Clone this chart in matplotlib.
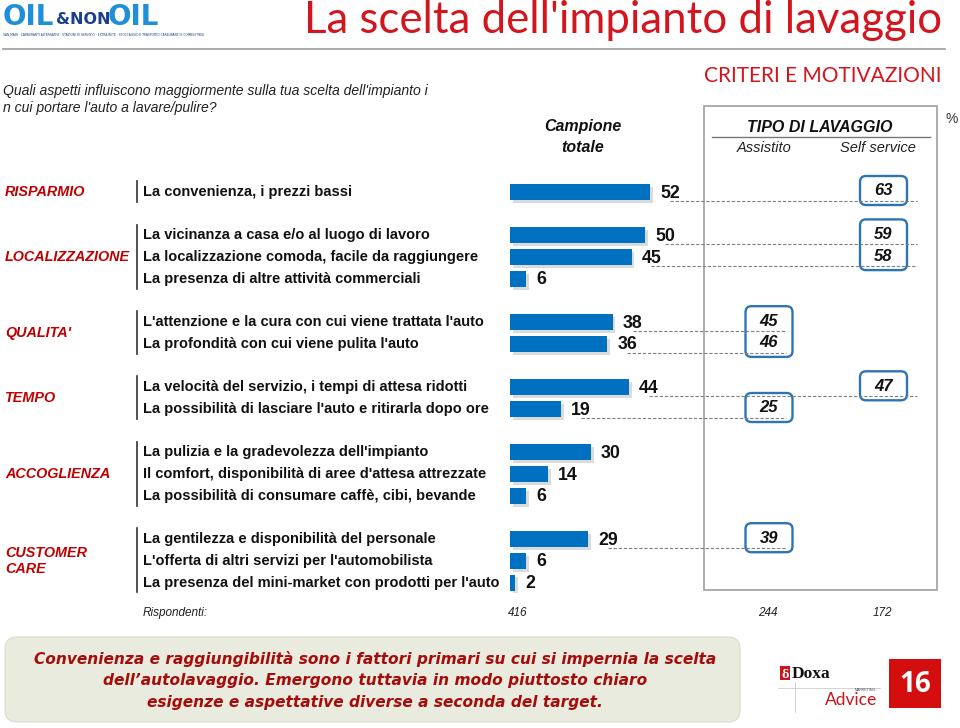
import matplotlib
matplotlib.use("Agg")
import matplotlib.pyplot as plt
import matplotlib.transforms as mtransforms
import matplotlib.patheffects as pe
from matplotlib.patches import FancyBboxPatch, Rectangle

# ---------------- data ----------------
categories = ["RISPARMIO", "LOCALIZZAZIONE", "QUALITA'", "TEMPO", "ACCOGLIENZA", "CUSTOMER\nCARE"]
items = [
    ["La convenienza, i prezzi bassi"],
    ["La vicinanza a casa e/o al luogo di lavoro",
     "La localizzazione comoda, facile da raggiungere",
     "La presenza di altre attività commerciali"],
    ["L'attenzione e la cura con cui viene trattata l'auto",
     "La profondità con cui viene pulita l'auto"],
    ["La velocità del servizio, i tempi di attesa ridotti",
     "La possibilità di lasciare l'auto e ritirarla dopo ore"],
    ["La pulizia e la gradevolezza dell'impianto",
     "Il comfort, disponibilità di aree d'attesa attrezzate",
     "La possibilità di consumare caffè, cibi, bevande"],
    ["La gentilezza e disponibilità del personale",
     "L'offerta di altri servizi per l'automobilista",
     "La presenza del mini-market con prodotti per l'auto"],
]
totale = [[52], [50, 45, 6], [38, 36], [44, 19], [30, 14, 6], [29, 6, 2]]
assistito = [[None], [None, None, None], [45, 46], [None, 25], [None, None, None], [39, None, None]]
self_service = [[63], [59, 58, None], [None, None], [47, None], [None, None, None], [None, None, None]]
column_labels = ["Assistito", "Self service"]
respondents = ["416", "244", "172"]

# ---------------- style ----------------
SANS = ["Liberation Sans", "DejaVu Sans"]
BLUE = "#0070C0"
RED = "#C00000"
TITLE_RED = "#D3151D"
BOX_BLUE = "#2E74B5"

fig = plt.figure(figsize=(9.6, 7.28), dpi=100)
fig.patch.set_facecolor("white")

# background layout axes in pixel units
bg = fig.add_axes([0, 0, 1, 1])
bg.set_xlim(0, 960)
bg.set_ylim(728, 0)
bg.set_autoscale_on(False)
bg.axis("off")

# bar axes
PX_PER_UNIT = 2.7
ROW0, PITCH = 192.0, 21.7
ax = fig.add_axes([510 / 960, 1 - 600 / 728, 450 / 960, 430 / 728], zorder=3)
ax.set_xlim(0, 450 / PX_PER_UNIT)
ax.set_ylim((600 - ROW0) / PITCH, (170 - ROW0) / PITCH)
ax.set_autoscale_on(False)
ax.axis("off")

mixed = mtransforms.blended_transform_factory(bg.transData, ax.transData)


def row_px(r):
    return bg.transData.inverted().transform(ax.transData.transform((0, r)))[1]


def px_to_x(px):
    return ax.transData.inverted().transform(bg.transData.transform((px, 0)))[0]


# rows
rows = []
start = 0
for g, grp in enumerate(totale):
    rows.append([start + i for i in range(len(grp))])
    start += len(grp) + 1

flat_rows = [r for grp in rows for r in grp]
flat_vals = [v for grp in totale for v in grp]

shadow = [pe.SimplePatchShadow(offset=(2, -2), shadow_rgbFace="#8a8a8a", alpha=0.3), pe.Normal()]
bars = ax.barh(flat_rows, flat_vals, height=0.74, color=BLUE, edgecolor="none")
for b in bars:
    b.set_path_effects(shadow)
for r, v in zip(flat_rows, flat_vals):
    ax.text(v + 3.7, r + 0.05, str(v), ha="left", va="center", fontsize=12.8,
            fontweight="bold", family=SANS, color="#111111")

# left side labels
for g, cat in enumerate(categories):
    rr = rows[g]
    mid = (rr[0] + rr[-1]) / 2
    bg.text(5, mid, cat, transform=mixed, ha="left", va="center", fontsize=10.4,
            fontweight="bold", fontstyle="italic", color=RED, family=SANS, linespacing=1.2)
    bg.plot([137, 137], [rr[0] - 0.5, rr[-1] + 0.45], transform=mixed, color="#333333", lw=1.2)
    for r, txt in zip(rr, items[g]):
        bg.text(143, r, txt, transform=mixed, ha="left", va="center", fontsize=10.5,
                fontweight="bold", color="#111111", family=SANS)

# highlighted columns
col_x = [769, 883.5]
col_end = [786, 917]
for ci, series in enumerate([assistito, self_service]):
    for g, grp in enumerate(series):
        run = []
        for i, val in enumerate(grp + [None]):
            if val is not None:
                run.append(i)
                r = rows[g][i]
                tv = totale[g][i]
                ax.plot([tv + 7.4, px_to_x(col_end[ci])], [r + 0.41, r + 0.41],
                        color="#808080", lw=0.8, ls=(0, (3, 1.6)), zorder=2)
                ax.text(px_to_x(col_x[ci]), r - 0.05, str(val), ha="center", va="center",
                        fontsize=12, fontweight="bold", fontstyle="italic",
                        family=SANS, color="#111111", zorder=6)
            elif run:
                top = row_px(rows[g][run[0]]) - 16
                bot = row_px(rows[g][run[-1]]) + 13
                bg.add_patch(FancyBboxPatch((col_x[ci] - 23.5, top), 47, bot - top,
                                            boxstyle="round,pad=0,rounding_size=6",
                                            facecolor="white", edgecolor=BOX_BLUE,
                                            lw=1.7, zorder=4))
                run = []

# panel frame
bg.add_patch(Rectangle((704, 106), 233, 484, facecolor="none", edgecolor="#A6A6A6", lw=1.3))
bg.text(820, 127, "TIPO DI LAVAGGIO", ha="center", va="center", fontsize=11.5,
        fontweight="bold", fontstyle="italic", family=SANS, color="#111111")
bg.plot([712, 930], [137, 137], color="#777777", lw=1)
bg.text(764, 148, column_labels[0], ha="center", va="center", fontsize=10.5,
        fontstyle="italic", family=SANS, color="#222222")
bg.text(878, 148, column_labels[1], ha="center", va="center", fontsize=10.5,
        fontstyle="italic", family=SANS, color="#222222")
bg.text(952, 119, "%", ha="center", va="center", fontsize=10, family=SANS, color="#333333")

bg.text(583, 127, "Campione", ha="center", va="center", fontsize=11.5,
        fontweight="bold", fontstyle="italic", family=SANS, color="#111111")
bg.text(583, 147, "totale", ha="center", va="center", fontsize=11.5,
        fontweight="bold", fontstyle="italic", family=SANS, color="#111111")

# header
bg.text(942, 33, "La scelta dell'impianto di lavaggio", ha="right", va="baseline",
        fontsize=31.5, family=["Lato", "DejaVu Sans"], fontweight="normal", color=TITLE_RED)
bg.plot([3, 945], [49, 49], color="#A6A6A6", lw=1.3)
bg.text(942, 76, "CRITERI E MOTIVAZIONI", ha="right", va="center", fontsize=15,
        family=["Lato", "DejaVu Sans"], fontweight="normal", color=TITLE_RED)
bg.text(3, 91, "Quali aspetti influiscono maggiormente sulla tua scelta dell'impianto i",
        ha="left", va="center", fontsize=10.1, fontstyle="italic", family=SANS, color="#222222")
bg.text(3, 108, "n cui portare l'auto a lavare/pulire?",
        ha="left", va="center", fontsize=10.1, fontstyle="italic", family=SANS, color="#222222")

# logo OIL&NONOIL
bg.text(3, 17, "OIL", ha="left", va="center", fontsize=20, fontweight="heavy",
        family="DejaVu Sans", color="#1E8FD8")
bg.text(56, 19, "&NON", ha="left", va="center", fontsize=11.5, fontweight="heavy",
        family="DejaVu Sans", color="#1B3F8F")
bg.text(108, 17, "OIL", ha="left", va="center", fontsize=20, fontweight="heavy",
        family="DejaVu Sans", color="#1E8FD8")
bg.text(3, 35, "SAN MAIN · CARBURANTI ALTERNATIVI · STAZIONI DI SERVIZIO · EXTRA RETE · STOCCAGGIO E TRASPORTO CARBURANTI E COMBUSTIBILI",
        ha="left", va="center", fontsize=2.2, family="DejaVu Sans", color="#1B3F8F")

# respondents
bg.text(143, 613, "Rispondenti:", ha="left", va="center", fontsize=8.5,
        fontstyle="italic", family=SANS, color="#222222")
for x, t in zip([518, 768, 882], respondents):
    bg.text(x, 613, t, ha="center", va="center", fontsize=8.5,
            fontstyle="italic", family=SANS, color="#222222")

# bottom message box
bg.add_patch(FancyBboxPatch((5, 637), 735, 85, boxstyle="round,pad=0,rounding_size=12",
                            facecolor="#E8EBDD", edgecolor="#DADDCC", lw=0.8))
msg = ["Convenienza e raggiungibilità sono i fattori primari su cui si impernia la scelta",
       "dell’autolavaggio. Emergono tuttavia in modo piuttosto chiaro",
       "esigenze e aspettative diverse a seconda del target."]
for y, line in zip([659, 681, 703], msg):
    bg.text(375, y, line, ha="center", va="center", fontsize=11.1, fontweight="bold",
            fontstyle="italic", family=["DejaVu Sans"], color="#A50C0C")

# Doxa logo
bg.add_patch(Rectangle((780, 666), 10, 14, facecolor="#C8161D", edgecolor="none"))
bg.text(785, 674, "δ", ha="center", va="center", fontsize=8, color="white",
        fontweight="bold", family="DejaVu Serif")
bg.text(792, 674, "Doxa", ha="left", va="center", fontsize=12.5, fontweight="bold",
        family=["Liberation Serif", "DejaVu Serif"], color="#111111")
bg.plot([778, 880], [688, 688], color="#CCCCCC", lw=0.6)
bg.plot([795, 795], [682, 712], color="#CCCCCC", lw=0.6)
bg.text(876, 690, "MARKETING", ha="right", va="center", fontsize=2.6, family=SANS, color="#444444")
bg.text(877, 700, "Advice", ha="right", va="center", fontsize=12.5,
        family=["Lato", "DejaVu Sans"], color="#C8161D")
bg.add_patch(Rectangle((889, 659), 52, 49, facecolor="#D40E0E", edgecolor="none"))
bg.text(915, 684, "16", ha="center", va="center", fontsize=20, fontweight="bold",
        family=["Open Sans", "DejaVu Sans"], color="white")

fig.savefig("out.png", dpi=100, facecolor="white")
